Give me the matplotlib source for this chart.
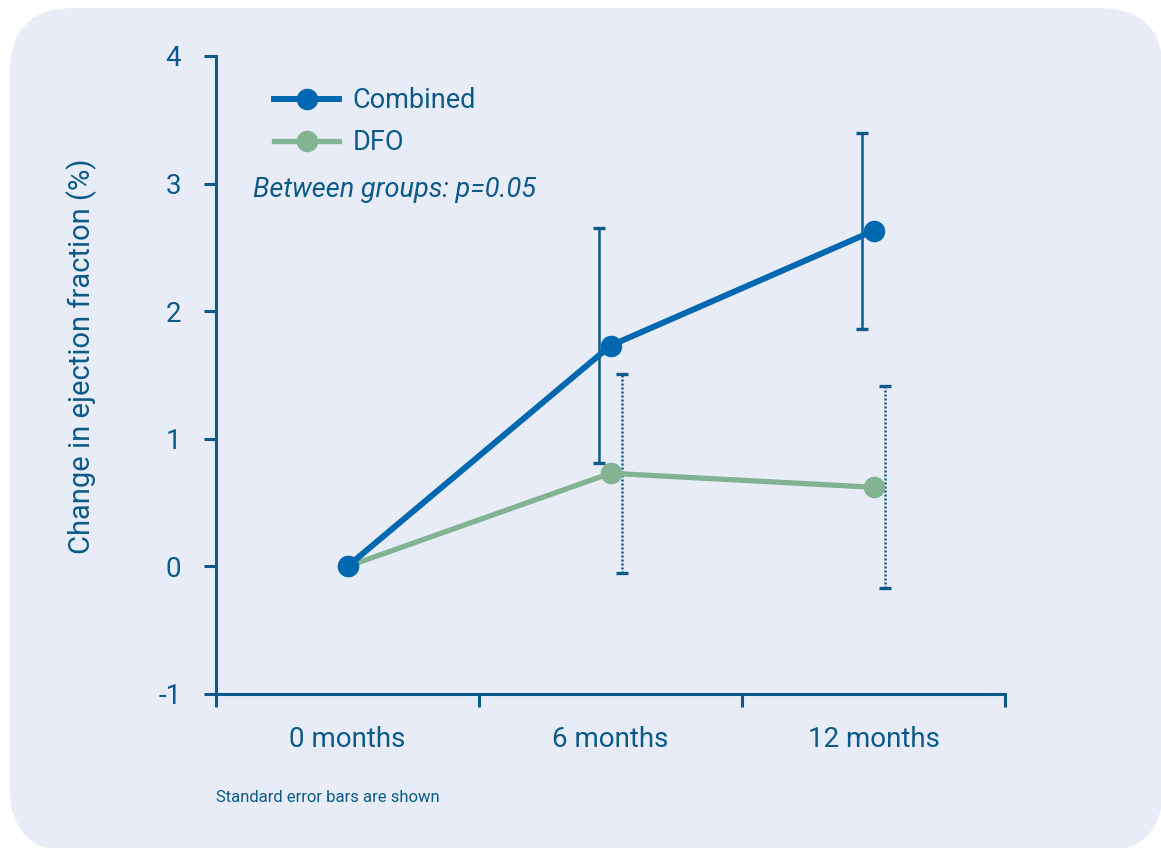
import matplotlib
matplotlib.use('Agg')
import matplotlib.pyplot as plt
from matplotlib.patches import FancyBboxPatch
import numpy as np

plt.rcParams['font.family'] = ['Roboto', 'DejaVu Sans']

categories = ['0 months', '6 months', '12 months']
combined_mean = [0.0, 1.73, 2.63]
combined_se = [0.0, 0.92, 0.77]
dfo_mean = [0.0, 0.73, 0.62]
dfo_se = [0.0, 0.78, 0.79]
yticks = [-1, 0, 1, 2, 3, 4]

c_combined = '#0068B0'
c_dfo = '#82B393'
c_axis = '#0B5A89'
c_bg = '#E8ECF7'

fig = plt.figure(figsize=(11.61, 8.48), dpi=100)
panel = FancyBboxPatch((10 / 1161, -4 / 848), 1153 / 1161, 844 / 848,
                       boxstyle='round,pad=0,rounding_size=0.055',
                       transform=fig.transFigure, facecolor=c_bg,
                       edgecolor='none', mutation_aspect=1161 / 848, zorder=-10)
fig.patches.append(panel)

ax = fig.add_axes([216 / 1161, 1 - 694 / 848, 789 / 1161, 638 / 848])
ax.set_facecolor('none')

x = np.arange(len(categories))
off = 0.045

# error bars (skip the zero baseline point)
eb1 = ax.errorbar(x[1:] - off, combined_mean[1:], yerr=combined_se[1:], fmt='none',
                  ecolor=c_axis, elinewidth=1.8, capsize=4.5, capthick=2.4, zorder=2)
eb2 = ax.errorbar(x[1:] + off, dfo_mean[1:], yerr=dfo_se[1:], fmt='none',
                  ecolor=c_axis, elinewidth=1.8, capsize=4.5, capthick=2.4, zorder=2)
eb2[2][0].set_linestyle((0, (0.8, 0.8)))

ax.plot(x, dfo_mean, color=c_dfo, lw=3.8, marker='o', ms=14.5, label='DFO', zorder=3)
ax.plot(x, combined_mean, color=c_combined, lw=4.3, marker='o', ms=14.5,
        label='Combined', zorder=4)

ax.set_xlim(-0.5, 2.5)
ax.set_ylim(-1, 4)
ax.set_yticks(yticks)
ax.set_yticklabels([str(v) for v in yticks])
ax.set_xticks([-0.5, 0.5, 1.5, 2.5])
ax.set_xticklabels([])
ax.set_xticks(x, minor=True)
ax.set_xticklabels(categories, minor=True)

for s in ['top', 'right']:
    ax.spines[s].set_visible(False)
for s in ['left', 'bottom']:
    ax.spines[s].set_color(c_axis)
    ax.spines[s].set_linewidth(2.2)
ax.tick_params(axis='y', which='major', length=9, width=2.2, color=c_axis,
               labelcolor=c_axis, labelsize=20, pad=16)
ax.tick_params(axis='x', which='major', length=9, width=2.2, color=c_axis)
ax.tick_params(axis='x', which='minor', length=0, labelcolor=c_axis,
               labelsize=20, pad=23)

ax.set_ylabel('Change in ejection fraction (%)', color=c_axis, fontsize=21)
ax.yaxis.set_label_coords(-0.151, 0.53)

h, l = ax.get_legend_handles_labels()
leg = ax.legend(h[::-1], l[::-1], loc='upper left', bbox_to_anchor=(0.06, 0.968),
                frameon=False, fontsize=19.5, handlelength=2.4, handletextpad=0.5,
                labelspacing=0.55, labelcolor=c_axis, borderaxespad=0)

ax.text(0.047, 0.79, 'Between groups: p=0.05', transform=ax.transAxes,
        style='italic', fontsize=19.5, color=c_axis, va='center', ha='left')

fig.text(216 / 1161, 1 - 798 / 848, 'Standard error bars are shown',
         fontsize=12, color=c_axis, va='center', ha='left')

fig.savefig('out.png', dpi=100)
